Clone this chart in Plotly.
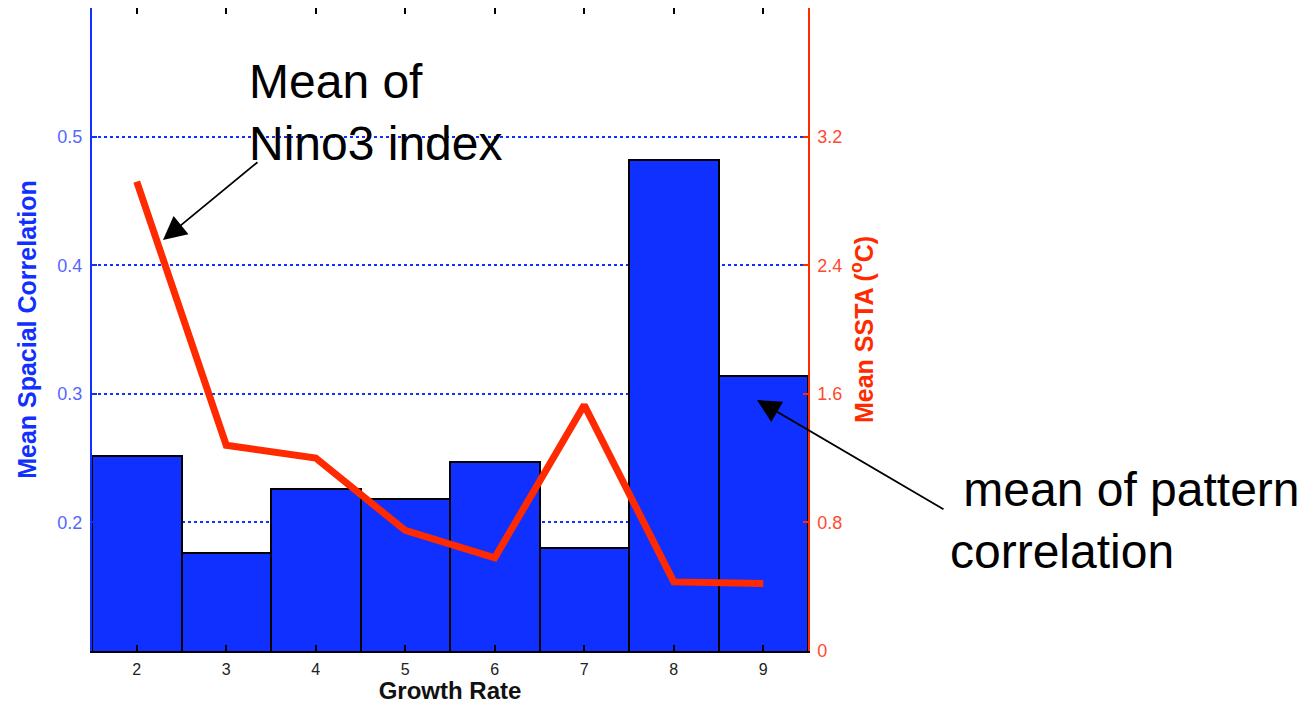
import plotly.graph_objects as go

growth_rate = [2, 3, 4, 5, 6, 7, 8, 9]
mean_spatial_corr = [0.252, 0.176, 0.226, 0.218, 0.247, 0.180, 0.482, 0.314]
mean_ssta = [2.92, 1.28, 1.20, 0.75, 0.58, 1.53, 0.43, 0.42]

left_ticks = [0.2, 0.3, 0.4, 0.5]
right_ticks = [0, 0.8, 1.6, 2.4, 3.2]

FONT = "Liberation Sans, Arial, Helvetica, sans-serif"
BLUE = "#0f30ff"
RED = "#ff2a00"

# page body has an 8px default margin; compensate so the figure fits the window
OFF = 8
W, H = 1307 - OFF, 704 - OFF
L, R, T, B = 92 - OFF, 1307 - 808, 8 - OFF, 704 - 651

fig = go.Figure()
fig.add_trace(go.Bar(
    x=growth_rate, y=mean_spatial_corr, width=1,
    marker=dict(color=BLUE, line=dict(color="black", width=2)),
    showlegend=False, hoverinfo="skip"))
fig.add_trace(go.Scatter(
    x=growth_rate, y=mean_ssta, yaxis="y2", mode="lines",
    line=dict(color=RED, width=7), showlegend=False, hoverinfo="skip"))

fig.update_layout(
    width=W, height=H,
    margin=dict(l=L, r=R, t=T, b=B, autoexpand=False),
    paper_bgcolor="white", plot_bgcolor="white",
    bargap=0,
    font=dict(family=FONT),
    xaxis=dict(
        range=[1.5, 9.5], tickvals=growth_rate, ticktext=[str(v) for v in growth_rate],
        showline=True, linecolor="black", linewidth=2, mirror="ticks",
        ticks="inside", ticklen=6, tickwidth=1.5, tickcolor="black",
        showgrid=False, zeroline=False,
        tickfont=dict(size=16, color="#222222", family=FONT),
        ticklabelstandoff=3,
        title=dict(text="<b>Growth Rate</b>", font=dict(size=24, color="#111111", family=FONT), standoff=3),
    ),
    yaxis=dict(
        range=[0.1, 0.6], tickvals=left_ticks, ticktext=["0.2", "0.3", "0.4", "0.5"],
        showline=True, linecolor=BLUE, linewidth=2,
        ticks="inside", ticklen=5, tickwidth=1.5, tickcolor=BLUE,
        showgrid=True, gridcolor=BLUE, gridwidth=1.5, griddash="dot",
        zeroline=False,
        tickfont=dict(size=18, color="#5566ff", family=FONT),
        ticklabelstandoff=4,
        title=dict(text="<b>Mean Spacial Correlation</b>", font=dict(size=25, color=BLUE, family=FONT), standoff=14),
    ),
    yaxis2=dict(
        range=[0, 4], tickvals=right_ticks, ticktext=["0", "0.8", "1.6", "2.4", "3.2"],
        overlaying="y", side="right", anchor="x",
        showline=True, linecolor=RED, linewidth=1.5,
        ticks="inside", ticklen=5, tickwidth=1.5, tickcolor=RED,
        showgrid=False, zeroline=False,
        tickfont=dict(size=18, color="#ff4a30", family=FONT),
        ticklabelstandoff=4,
        title=dict(text="<b>Mean SSTA (<sup>o</sup>C)</b>", font=dict(size=25, color=RED, family=FONT), standoff=14),
    ),
)

pw = 716
ph = 643
# Text annotations
fig.add_annotation(
    xref="paper", yref="paper", x=(247 - 92) / pw, y=(651 - 112) / ph,
    xanchor="left", yanchor="middle", align="left", showarrow=False,
    text="Mean of<br>Nino3 index", font=dict(size=48, color="black", family=FONT))
fig.add_annotation(
    xref="paper", yref="paper", x=(948 - 92) / pw, y=(651 - 520) / ph,
    xanchor="left", yanchor="middle", align="left", showarrow=False,
    text="\u00a0mean of pattern<br>correlation", font=dict(size=48, color="black", family=FONT))

# Arrows
fig.add_annotation(
    xref="x", yref="y2", x=2.293, y=2.557, ax=96, ay=-79, axref="pixel", ayref="pixel",
    showarrow=True, arrowhead=2, arrowsize=2.6, arrowwidth=1.8, arrowcolor="black", text="")
fig.add_annotation(
    xref="x", yref="y2", x=8.93, y=1.561, ax=188, ay=110, axref="pixel", ayref="pixel",
    showarrow=True, arrowhead=2, arrowsize=2.6, arrowwidth=1.8, arrowcolor="black", text="")

fig.write_html("out.html")
